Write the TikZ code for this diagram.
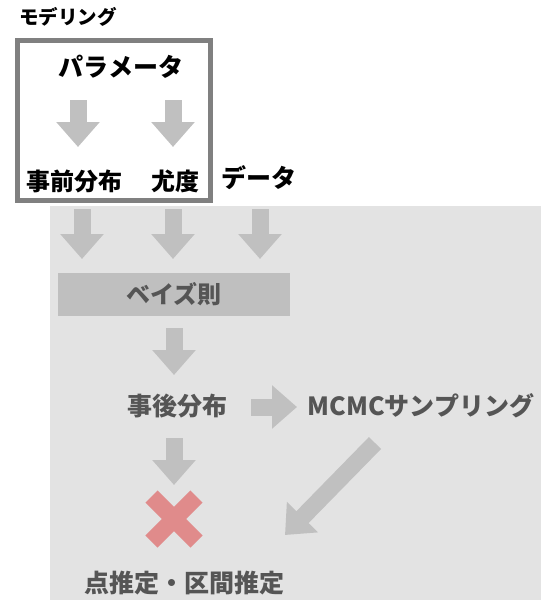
\documentclass[tikz,border=0pt]{standalone}
\usepackage{fontspec}
\setmainfont{Noto Sans CJK JP}
\usepackage{tikz}
\usetikzlibrary{arrows.meta,positioning,calc}
\definecolor{bgGray}{RGB}{227,227,227}
\definecolor{arrowGray}{RGB}{192,192,192}
\definecolor{ruleGray}{RGB}{191,191,191}
\definecolor{frameGray}{RGB}{128,128,128}
\definecolor{textGray}{RGB}{85,85,85}
\definecolor{crossRed}{RGB}{224,139,139}
\tikzset{
  fatarrow/.style={arrowGray,line width=17pt,-{Triangle[width=42pt,length=25pt]}},
  blacklabel/.style={font=\fontsize{24}{26}\selectfont\bfseries,text=black,inner sep=0pt},
  graylabel/.style={font=\fontsize{24}{26}\selectfont\bfseries,text=textGray,inner sep=0pt}
}
\begin{document}
\begin{tikzpicture}[x=1pt,y=-1pt]
  \useasboundingbox (0,0) rectangle (555,613);

  % inference area
  \fill[bgGray] (50,206) rectangle (541,600);

  % modeling box
  \node[font=\fontsize{19.5}{21}\selectfont\bfseries,anchor=west,inner sep=0pt] (modeling) at (19,17) {モデリング};
  \draw[frameGray,line width=5pt] (17.5,40.5) rectangle (210.5,200.5);

  \node[blacklabel,font=\fontsize{25}{27}\selectfont\bfseries] (param) at (121,67) {パラメータ};
  \node[blacklabel] (prior) at (74,181) {事前分布};
  \node[blacklabel] (lik) at (175,181) {尤度};
  \node[blacklabel,font=\fontsize{25}{27}\selectfont\bfseries] (data) at (259,177.5) {データ};

  \node[graylabel,fill=ruleGray,minimum width=232pt,minimum height=43pt] (bayes) at (174,294.5) {ベイズ則};
  \node[graylabel,font=\fontsize{25}{27}\selectfont\bfseries] (post) at (177,406) {事後分布};
  \node[graylabel,font=\fontsize{25}{27}\selectfont\bfseries] (mcmc) at (421,406) {MCMCサンプリング};
  \node[graylabel,font=\fontsize{25}{27}\selectfont\bfseries] (est) at (184,583) {点推定・区間推定};

  % arrow ends
  \coordinate (p1) at (78,100);   \coordinate (p1e) at (78,147);
  \coordinate (p2) at (173,100);  \coordinate (p2e) at (173,147);
  \coordinate (b1) at (82,209);   \coordinate (b1e) at (82,259);
  \coordinate (b2) at (173,209);  \coordinate (b2e) at (173,259);
  \coordinate (b3) at (260,209);  \coordinate (b3e) at (260,259);
  \coordinate (q1) at (174,328);  \coordinate (q1e) at (174,375);
  \coordinate (r1) at (251,407);  \coordinate (r1e) at (297,407);
  \coordinate (q2) at (174,438);  \coordinate (q2e) at (174,485);
  \coordinate (d1) at (375,443);  \coordinate (d1e) at (285,535);

  \draw[fatarrow] (p1) -- (p1e);
  \draw[fatarrow] (p2) -- (p2e);
  \draw[fatarrow] (b1) -- (b1e);
  \draw[fatarrow] (b2) -- (b2e);
  \draw[fatarrow] (b3) -- (b3e);
  \draw[fatarrow] (q1) -- (q1e);
  \draw[fatarrow] (r1) -- (r1e);
  \draw[fatarrow] (q2) -- (q2e);
  \draw[fatarrow] (d1) -- (d1e);

  % cross
  \coordinate (cross) at (174,519);
  \draw[crossRed,line width=17pt] ($(cross)+(-22.5,-22.5)$) -- ($(cross)+(22.5,22.5)$);
  \draw[crossRed,line width=17pt] ($(cross)+(22.5,-22.5)$) -- ($(cross)+(-22.5,22.5)$);
\end{tikzpicture}
\end{document}
